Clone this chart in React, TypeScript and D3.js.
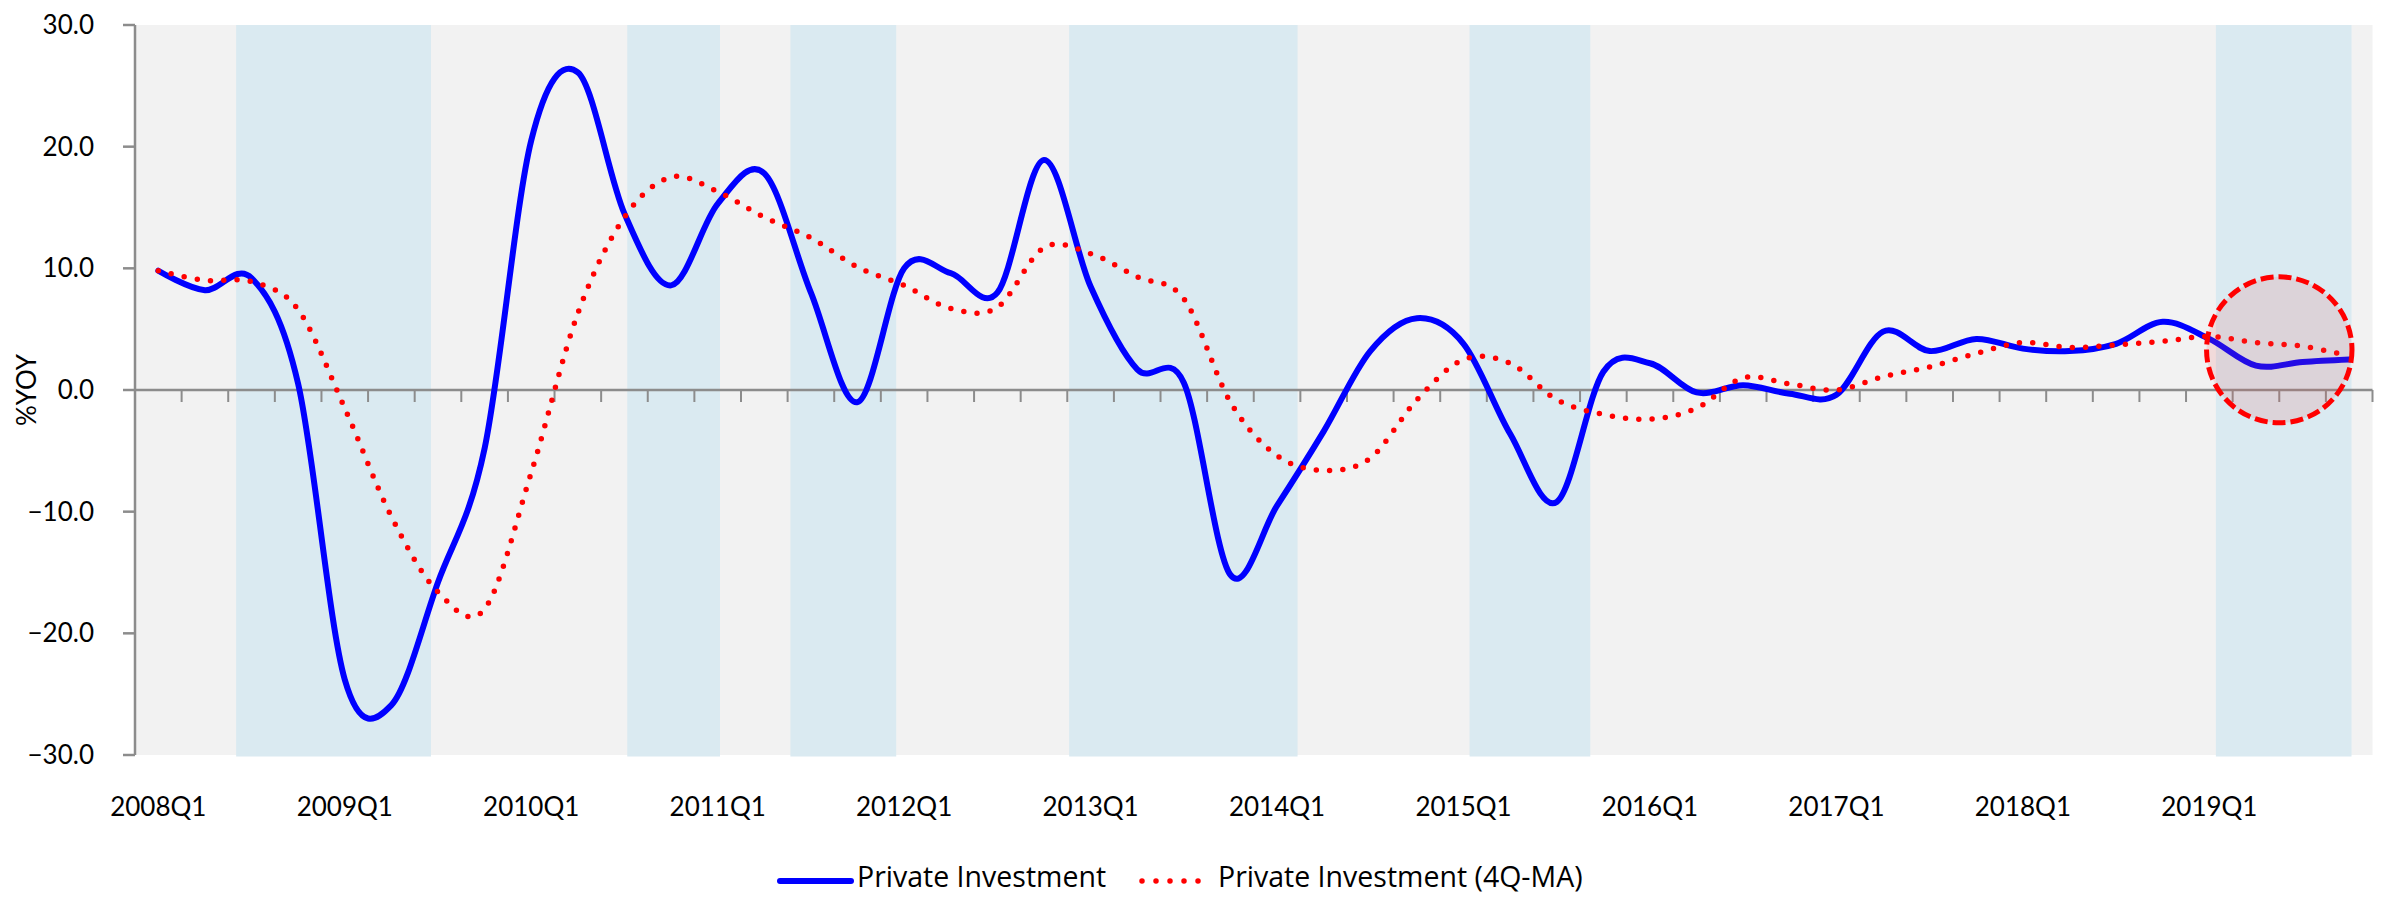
import React from "react";
import * as d3 from "d3";

const years = d3.range(2008, 2020);
const quarters: string[] = years.flatMap((yr) => [1, 2, 3, 4].map((q) => `${yr}Q${q}`));

const privateInvestment = [
  9.8, 8.2, 9.2, 0.5, -23.8, -25.9, -15.8, -4.8, 20.5, 26.1, 14.5, 8.6,
  15.3, 17.8, 8.0, -1.0, 10.0, 9.6, 8.0, 18.9, 8.5, 1.7, 0.6, -15.2,
  -9.5, -3.4, 3.2, 5.9, 3.8, -3.6, -9.2, 1.5, 2.2, -0.2, 0.4, -0.3,
  -0.4, 4.8, 3.2, 4.2, 3.4, 3.2, 3.8, 5.6, 4.2, 2.0, 2.3, 2.5,
];

const privateInvestmentMA = [
  9.8, 9.0, 8.9, 6.6, -1.5, -10.4, -16.6, -18.0, -6.8, 6.3, 14.2, 17.5,
  16.3, 14.2, 12.5, 10.1, 8.6, 6.7, 6.8, 11.7, 11.2, 9.3, 7.5, -1.0,
  -5.4, -6.6, -5.6, -0.8, 2.5, 2.2, -0.8, -2.0, -2.4, -1.5, 1.0, 0.5,
  0.0, 1.1, 1.9, 3.0, 3.9, 3.5, 3.7, 4.0, 4.4, 3.9, 3.6, 2.8,
];

// shaded periods, in quarter units along the category axis
const bandStarts = [2.17, 10.56, 14.06, 20.04, 28.63, 44.64];
const bandEnds = [6.35, 12.55, 16.33, 24.94, 31.22, 47.55];

const yTicks = [-30, -20, -10, 0, 10, 20, 30];
const seriesNames = ["Private Investment", "Private Investment (4Q-MA)"];

// highlight circle (quarter-axis position, value, radii in quarters / value units)
const highlight = { q: 46, v: 3.3, rq: 1.56, rv: 6.0 };

const W = 2382;
const H = 901;
const FONT = "Lato, 'DejaVu Sans', sans-serif";
const LEGEND_FONT = "'Open Sans', 'DejaVu Sans', sans-serif";

export default function App() {
  const x = d3.scaleLinear().domain([0, quarters.length]).range([135, 2372.5]);
  const y = d3.scaleLinear().domain([-30, 30]).range([755, 25]);

  const line = d3
    .line<number>()
    .x((_, i) => x(i + 0.5))
    .y((d) => y(d))
    .curve(d3.curveCardinal.tension(0));

  const xTicks = d3.range(0, quarters.length + 1);
  const labelIdx = quarters.map((q, i) => (q.endsWith("Q1") ? i : -1)).filter((i) => i >= 0);

  return (
    <svg
      width={W}
      height={H}
      style={{ position: "absolute", left: 0, top: 0, display: "block", background: "#fff" }}
      fontFamily={FONT}
    >
      <rect x={x(0)} y={y(30)} width={x(quarters.length) - x(0)} height={y(-30) - y(30)} fill="#F2F2F2" />
      {bandStarts.map((s, i) => (
        <rect
          key={i}
          x={x(s)}
          y={y(30)}
          width={x(bandEnds[i]) - x(s)}
          height={y(-30) - y(30) + 1.5}
          fill="#DAEAF1"
        />
      ))}

      {/* y axis */}
      <line x1={x(0)} x2={x(0)} y1={y(30)} y2={y(-30)} stroke="#8C8C8C" strokeWidth={2.5} />
      {yTicks.map((t) => (
        <g key={t}>
          <line x1={x(0) - 12} x2={x(0)} y1={y(t)} y2={y(t)} stroke="#8C8C8C" strokeWidth={2.5} />
          <text x={94} y={y(t)} dy="0.35em" textAnchor="end" fontSize={26} fill="#000">
            {d3.format(".1f")(t)}
          </text>
        </g>
      ))}
      <text
        transform={`translate(27, ${(y(30) + y(-30)) / 2}) rotate(-90)`}
        textAnchor="middle"
        dy="0.35em"
        fontSize={26}
      >
        %YOY
      </text>

      {/* x axis at zero */}
      <line x1={x(0)} x2={x(quarters.length)} y1={y(0)} y2={y(0)} stroke="#8C8C8C" strokeWidth={2.5} />
      {xTicks.map((t) => (
        <line key={t} x1={x(t)} x2={x(t)} y1={y(0)} y2={y(0) + 12} stroke="#8C8C8C" strokeWidth={2} />
      ))}
      {labelIdx.map((i) => (
        <text key={i} x={x(i + 0.5)} y={807} dy="0.35em" textAnchor="middle" fontSize={26}>
          {quarters[i]}
        </text>
      ))}

      {/* series */}
      <path d={line(privateInvestment) ?? ""} fill="none" stroke="#0000FF" strokeWidth={6} strokeLinejoin="round" strokeLinecap="round" />
      <path
        d={line(privateInvestmentMA) ?? ""}
        fill="none"
        stroke="#FF0000"
        strokeWidth={5.5}
        strokeLinecap="round"
        strokeDasharray="0 13.3"
      />

      {/* highlight */}
      <ellipse
        cx={x(highlight.q)}
        cy={y(highlight.v)}
        rx={x(highlight.q + highlight.rq) - x(highlight.q)}
        ry={y(highlight.v - highlight.rv) - y(highlight.v)}
        fill="rgba(238,81,81,0.15)"
        stroke="#FF0000"
        strokeWidth={5}
        strokeDasharray="13 5"
      />

      {/* legend */}
      <line x1={780} x2={851} y1={881} y2={881} stroke="#0000FF" strokeWidth={6} strokeLinecap="round" />
      <text x={857} y={887} fontSize={28.5} fontFamily={LEGEND_FONT}>
        {seriesNames[0]}
      </text>
      <line x1={1142} x2={1199} y1={881} y2={881} stroke="#FF0000" strokeWidth={5.5} strokeLinecap="round" strokeDasharray="0 14" />
      <text x={1218} y={887} fontSize={28.5} fontFamily={LEGEND_FONT}>
        {seriesNames[1]}
      </text>
    </svg>
  );
}
